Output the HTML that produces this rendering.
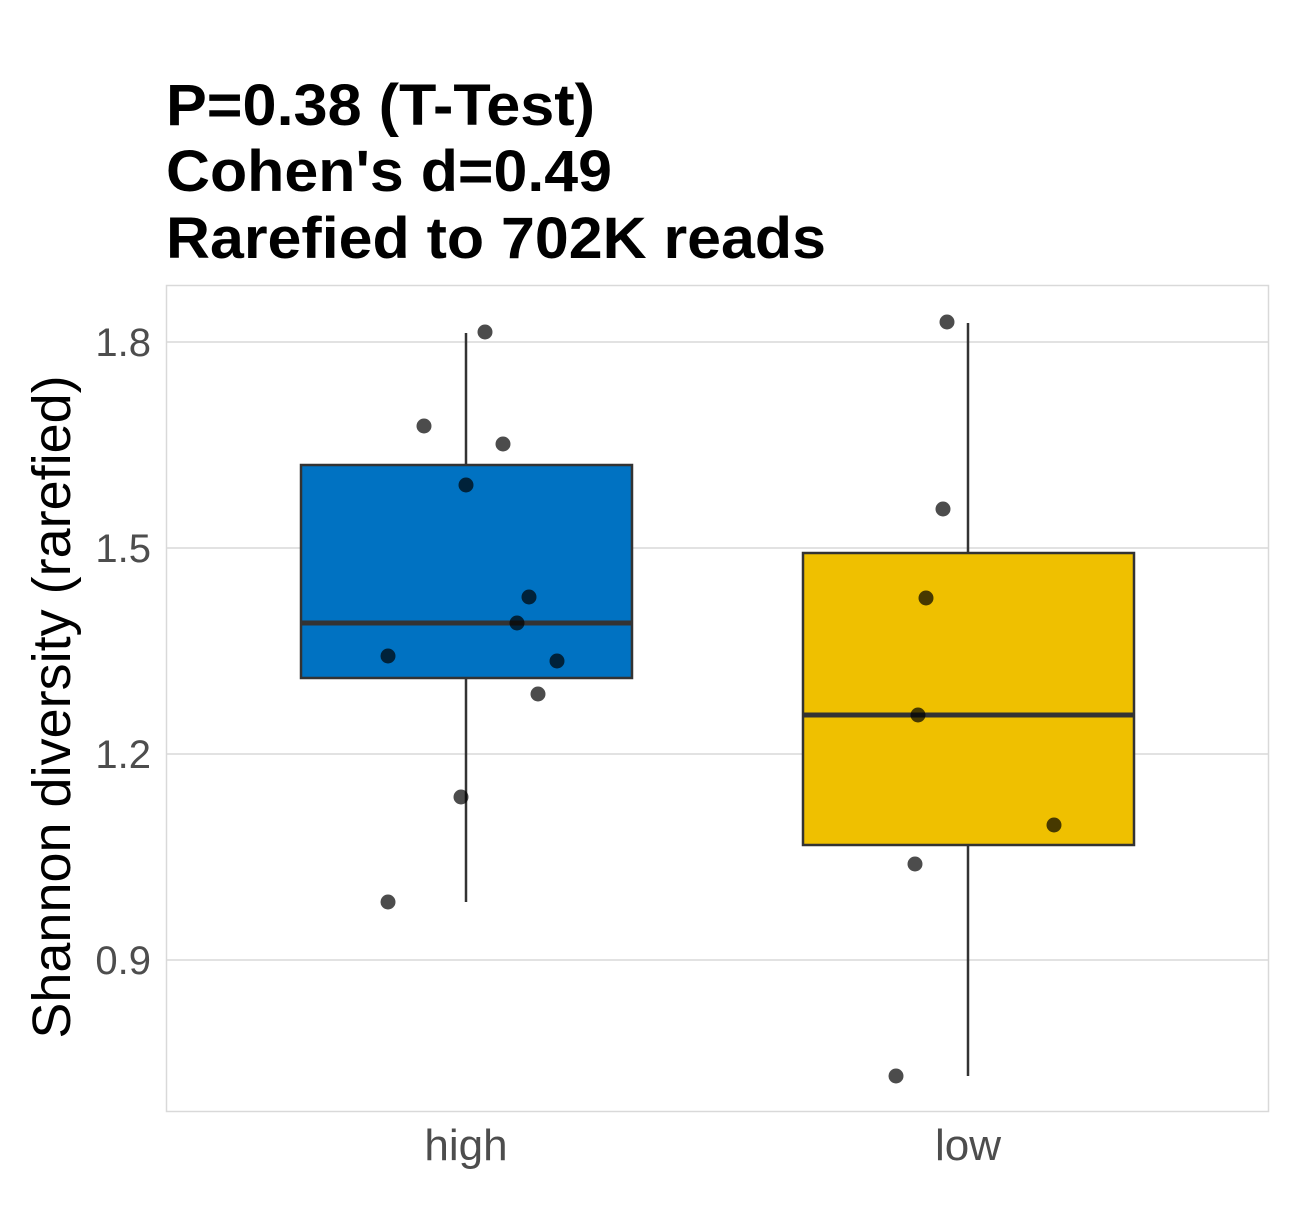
<!DOCTYPE html>
<html><head><meta charset="utf-8"><style>body{margin:0;background:#fff}</style></head>
<body>
<svg width="1300" height="1200" xmlns="http://www.w3.org/2000/svg" font-family="Liberation Sans, Arial, sans-serif">
<rect width="1300" height="1200" fill="#fff"/>
<g font-weight="bold" font-size="58" fill="#000">
<text x="166" y="125" textLength="429" lengthAdjust="spacingAndGlyphs">P=0.38 (T-Test)</text>
<text x="166" y="191" textLength="446" lengthAdjust="spacingAndGlyphs">Cohen's d=0.49</text>
<text x="166" y="258" textLength="660" lengthAdjust="spacingAndGlyphs">Rarefied to 702K reads</text>
</g>
<rect x="166.5" y="285.5" width="1102" height="826" fill="none" stroke="#d9d9d9" stroke-width="1.5"/>
<g stroke="#d9d9d9" stroke-width="1.5">
<line x1="166" x2="1269" y1="342" y2="342"/>
<line x1="166" x2="1269" y1="548" y2="548"/>
<line x1="166" x2="1269" y1="754" y2="754"/>
<line x1="166" x2="1269" y1="960" y2="960"/>
</g>
<g font-size="40" fill="#4d4d4d" text-anchor="end">
<text x="151" y="356">1.8</text>
<text x="151" y="562">1.5</text>
<text x="151" y="768">1.2</text>
<text x="151" y="974">0.9</text>
</g>
<g font-size="44" fill="#4d4d4d" text-anchor="middle">
<text x="466" y="1160">high</text>
<text x="968" y="1160">low</text>
</g>
<text transform="translate(70,707) rotate(-90)" font-size="54" text-anchor="middle" fill="#000">Shannon diversity (rarefied)</text>
<g stroke="#333" stroke-width="2.5">
<line x1="466" x2="466" y1="333" y2="902"/>
<line x1="968" x2="968" y1="323" y2="1076"/>
<rect x="301" y="465" width="331" height="213" fill="#0072C2"/>
<rect x="803" y="553" width="331" height="292" fill="#EFC000"/>
</g>
<g stroke="#333" stroke-width="5">
<line x1="301" x2="632" y1="623" y2="623"/>
<line x1="803" x2="1134" y1="715" y2="715"/>
</g>
<g fill="#000" fill-opacity="0.7">
<circle cx="485" cy="332" r="7.5"/><circle cx="424" cy="426" r="7.5"/><circle cx="503" cy="444" r="7.5"/>
<circle cx="466" cy="485" r="7.5"/><circle cx="529" cy="597" r="7.5"/><circle cx="517" cy="623" r="7.5"/>
<circle cx="388" cy="656" r="7.5"/><circle cx="557" cy="661" r="7.5"/><circle cx="538" cy="694" r="7.5"/>
<circle cx="461" cy="797" r="7.5"/><circle cx="388" cy="902" r="7.5"/>
<circle cx="947" cy="322" r="7.5"/><circle cx="943" cy="509" r="7.5"/><circle cx="926" cy="598" r="7.5"/>
<circle cx="918" cy="715" r="7.5"/><circle cx="1054" cy="825" r="7.5"/><circle cx="915" cy="864" r="7.5"/>
<circle cx="896" cy="1076" r="7.5"/>
</g>
</svg>
</body></html>
